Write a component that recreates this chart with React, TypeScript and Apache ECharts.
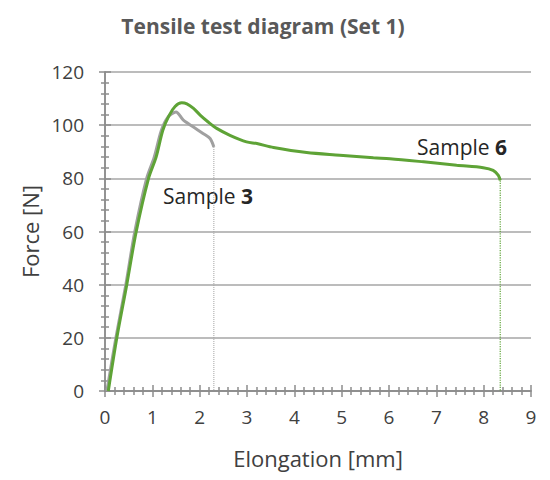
import React, { useEffect, useRef } from "react";
import * as echarts from "echarts";

const sample3Elong = [0.04, 0.23, 0.44, 0.63, 0.88, 1.04, 1.19, 1.33, 1.5, 1.65, 1.86, 2.07, 2.22, 2.3];
const sample3Force = [0, 20, 40, 60, 80, 88, 98, 103, 105, 102, 99.4, 96.9, 95, 91.8];

const sample6Elong = [0.07, 0.25, 0.46, 0.66, 0.92, 1.08, 1.22, 1.35, 1.48, 1.62, 1.73, 1.87, 2.01, 2.18, 2.36, 2.64, 2.99, 3.21, 3.56, 4.26, 4.96, 5.67, 6.02, 6.73, 7.43, 7.99, 8.2, 8.31, 8.35];
const sample6Force = [0, 20, 40, 60, 80, 88, 98, 103.5, 107, 108.4, 108, 106.3, 103.8, 101.2, 98.8, 96.2, 93.7, 93.1, 91.6, 89.7, 88.7, 87.7, 87.4, 86.2, 84.9, 84.0, 83.0, 81.1, 79.2];

const xTicks = { min: 0, max: 9, interval: 1 };
const yTicks = { min: 0, max: 120, interval: 20 };

const FONT = "Open Sans";
const AXIS_COLOR = "#8c8c8c";
const GREEN = "#5ea336";
const GRAY = "#a0a0a0";
const TEXT = "#404040";

function zip(xs: number[], ys: number[]) {
  return xs.map((x, i) => [x, ys[i]]);
}

export default function App() {
  const ref = useRef<HTMLDivElement>(null);
  useEffect(() => {
    document.body.style.margin = "0";
    if (!ref.current) return;
    const chart = echarts.init(ref.current, undefined, { renderer: "svg" });
    const s3 = zip(sample3Elong, sample3Force);
    const s6 = zip(sample6Elong, sample6Force);
    const last3 = s3[s3.length - 1];
    const last6 = s6[s6.length - 1];
    const tickCommon = (inside: boolean) => ({
      axisLine: { show: true, lineStyle: { color: AXIS_COLOR, width: 1.5 } },
      axisTick: { show: true, inside, length: 6, lineStyle: { color: AXIS_COLOR, width: 1.5 } },
      minorTick: { show: true, splitNumber: 5, length: 4, lineStyle: { color: AXIS_COLOR, width: 1.5 } },
    });
    const labelStyle = { color: TEXT, fontFamily: FONT, fontSize: 19 };
    const richLabel = (text: string, x: number, y: number) => ({
      type: "text",
      x,
      y,
      style: {
        text,
        fontFamily: FONT,
        fontSize: 21,
        fill: "#262626",
        verticalAlign: "middle",
        rich: { b: { fontFamily: FONT, fontSize: 21, fontWeight: "bold", fill: "#262626" } },
      },
    });
    chart.setOption({
      animation: false,
      title: {
        text: "Tensile test diagram (Set 1)",
        left: 258,
        top: 10,
        textAlign: "center",
        textStyle: { fontFamily: FONT, fontSize: 21, fontWeight: "bold", color: "#595959" },
      },
      grid: { left: 105, right: 19, top: 72, bottom: 89 },
      xAxis: [
        {
          type: "value",
          position: "bottom",
          ...xTicks,
          name: "Elongation [mm]",
          nameLocation: "middle",
          nameGap: 56,
          nameTextStyle: { fontFamily: FONT, fontSize: 22, color: TEXT },
          splitLine: { show: false },
          ...tickCommon(false),
          axisLabel: { ...labelStyle, margin: 16 },
        },
        {
          type: "value",
          position: "bottom",
          ...xTicks,
          splitLine: { show: false },
          ...tickCommon(true),
          axisLabel: { show: false },
        },
      ],
      yAxis: [
        {
          type: "value",
          position: "left",
          ...yTicks,
          name: "Force [N]",
          nameLocation: "middle",
          nameGap: 64,
          nameTextStyle: { fontFamily: FONT, fontSize: 22, color: TEXT },
          splitLine: { show: true, lineStyle: { color: "#a6a6a6", width: 1.5 } },
          ...tickCommon(false),
          axisLabel: { ...labelStyle, margin: 21 },
        },
        {
          type: "value",
          position: "left",
          ...yTicks,
          splitLine: { show: false },
          ...tickCommon(true),
          axisLabel: { show: false },
        },
      ],
      graphic: [richLabel("Sample {b|3}", 163, 196), richLabel("Sample {b|6}", 417, 147)],
      series: [
        {
          name: "Sample 3 drop",
          type: "line",
          data: [last3, [last3[0], 0]],
          showSymbol: false,
          lineStyle: { color: GRAY, width: 1, type: "dotted" },
          z: 1,
        },
        {
          name: "Sample 6 drop",
          type: "line",
          data: [last6, [last6[0], 0]],
          showSymbol: false,
          lineStyle: { color: GREEN, width: 1.2, type: "dotted" },
          z: 1,
        },
        {
          name: "Sample 3",
          type: "line",
          data: s3,
          smooth: 0.3,
          showSymbol: false,
          lineStyle: { color: GRAY, width: 3 },
          z: 2,
        },
        {
          name: "Sample 6",
          type: "line",
          data: s6,
          smooth: 0.3,
          showSymbol: false,
          lineStyle: { color: GREEN, width: 3 },
          z: 3,
        },
      ],
    });
    return () => chart.dispose();
  }, []);
  return <div ref={ref} style={{ width: 550, height: 480 }} />;
}
